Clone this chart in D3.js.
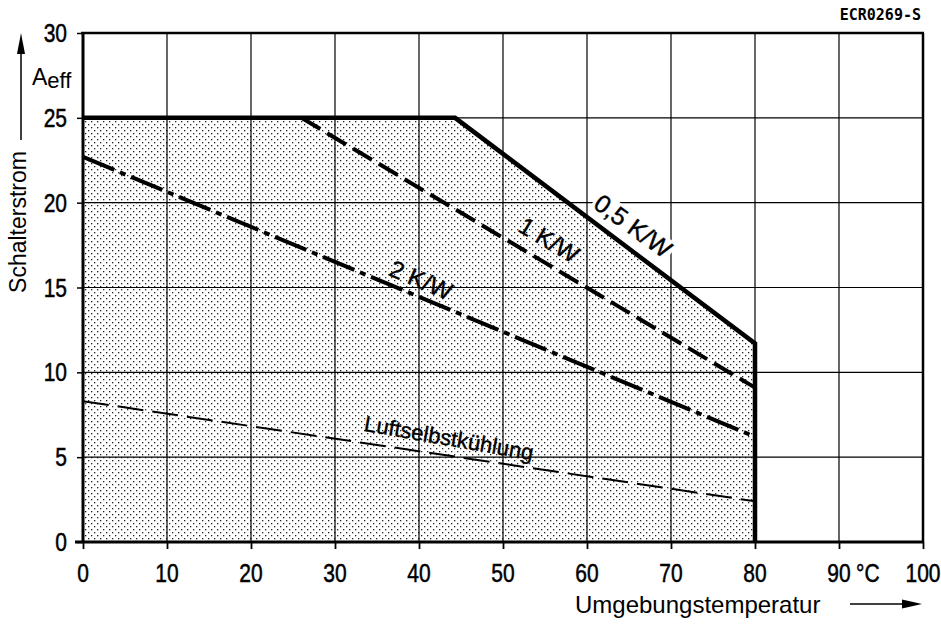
<!DOCTYPE html>
<html>
<head>
<meta charset="utf-8">
<script src="https://cdn.jsdelivr.net/npm/d3@7"></script>
<style>
  html, body { margin: 0; padding: 0; background: #fff; }
  svg { display: block; }
  text { fill: #000; }
</style>
</head>
<body>
<svg id="chart" width="941" height="626"></svg>
<script>
// Derating curves: switch current (A eff) vs. ambient temperature (°C)
const temp05 = [0, 44.3, 80, 80];
const amp05  = [25, 25, 11.7, 0];
const temp1  = [26, 80];
const amp1   = [25, 9.1];
const temp2  = [0, 80];
const amp2   = [22.7, 6.2];
const tempLuft = [0, 80];
const ampLuft  = [8.3, 2.4];

const xTickValues = [0, 10, 20, 30, 40, 50, 60, 70, 80, 90, 100];
const xTickLabels = ["0", "10", "20", "30", "40", "50", "60", "70", "80", "90", "100"];
const yTickValues = [0, 5, 10, 15, 20, 25, 30];

const FONT = "'Liberation Sans', Arial, Helvetica, sans-serif";
const COND = 0.84; // horizontal squeeze for the condensed tick numerals

const svg = d3.select("#chart");
const x = d3.scaleLinear().domain([0, 100]).range([83, 923]);
const y = d3.scaleLinear().domain([0, 30]).range([542, 33]);

const zip = (a, b) => a.map((v, i) => [v, b[i]]);

// dotted fill pattern
const defs = svg.append("defs");
const pat = defs.append("pattern")
  .attr("id", "dots").attr("patternUnits", "userSpaceOnUse")
  .attr("width", 6).attr("height", 6);
pat.append("rect").attr("width", 6).attr("height", 6).attr("fill", "#fff");
pat.append("rect").attr("x", 1).attr("y", 1).attr("width", 1.3).attr("height", 1.3).attr("fill", "#222");
pat.append("rect").attr("x", 4).attr("y", 4).attr("width", 1.3).attr("height", 1.3).attr("fill", "#222");

// shaded permissible region under the 0.5 K/W curve
const area = d3.area().x(d => x(d[0])).y0(y(0)).y1(d => y(d[1]));
svg.append("path")
  .datum(zip(temp05.slice(0, 3), amp05.slice(0, 3)))
  .attr("d", area)
  .attr("fill", "url(#dots)");

// grid
const grid = svg.append("g").attr("stroke", "#000").attr("stroke-width", 1.2);
xTickValues.slice(1, -1).forEach(v => {
  grid.append("line").attr("x1", x(v)).attr("x2", x(v)).attr("y1", y(30)).attr("y2", y(0));
});
yTickValues.slice(1, -1).forEach(v => {
  grid.append("line").attr("x1", x(0)).attr("x2", x(100)).attr("y1", y(v)).attr("y2", y(v));
});

// frame
svg.append("line").attr("x1", x(0) - 2).attr("x2", x(100) + 1).attr("y1", y(30)).attr("y2", y(30))
  .attr("stroke", "#000").attr("stroke-width", 2.5);
svg.append("line").attr("x1", x(100)).attr("x2", x(100)).attr("y1", y(30)).attr("y2", y(0))
  .attr("stroke", "#000").attr("stroke-width", 2.5);

// axes
const xAxis = d3.axisBottom(x).tickValues(xTickValues).tickSize(7).tickFormat("");
const gx = svg.append("g").attr("transform", `translate(0,${y(0)})`).call(xAxis);
gx.select(".domain").attr("stroke-width", 3).attr("d", `M${x(0) - 8},0H${x(100) + 1}`);
gx.selectAll(".tick line").attr("stroke-width", 1.8);

const yAxis = d3.axisLeft(y).tickValues(yTickValues).tickSize(6).tickFormat("");
const gy = svg.append("g").attr("transform", `translate(${x(0)},0)`).call(yAxis);
gy.select(".domain").attr("stroke-width", 3).attr("d", `M0,${y(30)}V${y(0)}`);
gy.selectAll(".tick line").attr("stroke-width", 1.5);

// tick labels (condensed numerals)
svg.append("g").selectAll("text").data(yTickValues).join("text")
  .attr("transform", d => `translate(67,${y(d)}) scale(${COND},1)`)
  .attr("dy", "0.36em")
  .attr("text-anchor", "end")
  .attr("font-family", FONT).attr("font-size", 25)
  .attr("stroke", "#000").attr("stroke-width", 0.5)
  .text(d => d);

svg.append("g").selectAll("text").data(xTickValues).join("text")
  .attr("transform", d => `translate(${x(d)},582) scale(${COND},1)`)
  .attr("text-anchor", "middle")
  .attr("font-family", FONT).attr("font-size", 25)
  .attr("stroke", "#000").attr("stroke-width", 0.5)
  .text((d, i) => xTickLabels[i]);

// unit next to the 90 label
svg.append("text")
  .attr("transform", `translate(${x(90) + 17},582) scale(${COND},1)`)
  .attr("font-family", FONT).attr("font-size", 25)
  .attr("stroke", "#000").attr("stroke-width", 0.5)
  .text("°C");

// curves
const line = d3.line().x(d => x(d[0])).y(d => y(d[1]));
svg.append("path").datum(zip(temp05, amp05)).attr("d", line)
  .attr("fill", "none").attr("stroke", "#000").attr("stroke-width", 4.5)
  .attr("stroke-linejoin", "miter");
svg.append("path").datum(zip(temp1, amp1)).attr("d", line)
  .attr("fill", "none").attr("stroke", "#000").attr("stroke-width", 4)
  .attr("stroke-dasharray", "22 8");
svg.append("path").datum(zip(temp2, amp2)).attr("d", line)
  .attr("fill", "none").attr("stroke", "#000").attr("stroke-width", 4)
  .attr("stroke-dasharray", "34 6 6 6");
svg.append("path").datum(zip(tempLuft, ampLuft)).attr("d", line)
  .attr("fill", "none").attr("stroke", "#000").attr("stroke-width", 2)
  .attr("stroke-dasharray", "26 9");

// curve labels
function curveLabel(txt, tx, ty, angle, size, bg) {
  const g = svg.append("g").attr("transform", `translate(${tx},${ty}) rotate(${angle})`);
  const t = g.append("text").attr("text-anchor", "middle").attr("dy", "0.35em")
    .attr("font-family", FONT).attr("font-size", size)
    .attr("stroke", "#000").attr("stroke-width", 0.4)
    .text(txt);
  if (bg) {
    const b = t.node().getBBox();
    g.insert("rect", "text").attr("x", b.x - 2).attr("y", b.y + 3)
      .attr("width", b.width + 4).attr("height", b.height - 6).attr("fill", "#fff");
  }
}
curveLabel("0,5 K/W", 633, 226, 36, 25, true);
curveLabel("1 K/W", 549, 240, 31, 24, false);
curveLabel("2 K/W", 421, 280, 23, 24, false);
curveLabel("Luftselbstkühlung", 449, 438, 10, 22, false);

// axis titles
svg.append("text")
  .attr("transform", "translate(26,222) rotate(-90)")
  .attr("text-anchor", "middle")
  .attr("font-family", FONT).attr("font-size", 23)
  .text("Schalterstrom");
svg.append("line").attr("x1", 21).attr("x2", 21).attr("y1", 140).attr("y2", 50)
  .attr("stroke", "#000").attr("stroke-width", 1.5);
svg.append("path").attr("d", "M21,33 L17,54 L25,54 Z").attr("fill", "#000");

const aeff = svg.append("text").attr("x", 32).attr("y", 85)
  .attr("font-family", FONT).attr("font-size", 23);
aeff.append("tspan").text("A");
aeff.append("tspan").attr("dy", 3).attr("font-size", 22).text("eff");

svg.append("text").attr("x", 575).attr("y", 613)
  .attr("font-family", FONT).attr("font-size", 24)
  .text("Umgebungstemperatur");
svg.append("line").attr("x1", 850).attr("x2", 905).attr("y1", 604).attr("y2", 604)
  .attr("stroke", "#000").attr("stroke-width", 1.5);
svg.append("path").attr("d", "M922,604 L902,599.5 L902,608.5 Z").attr("fill", "#000");

svg.append("text").attr("x", 921).attr("y", 20).attr("text-anchor", "end")
  .attr("font-family", "'DejaVu Sans Mono', monospace").attr("font-size", 15).attr("font-weight", "bold")
  .text("ECR0269-S");
</script>
</body>
</html>
